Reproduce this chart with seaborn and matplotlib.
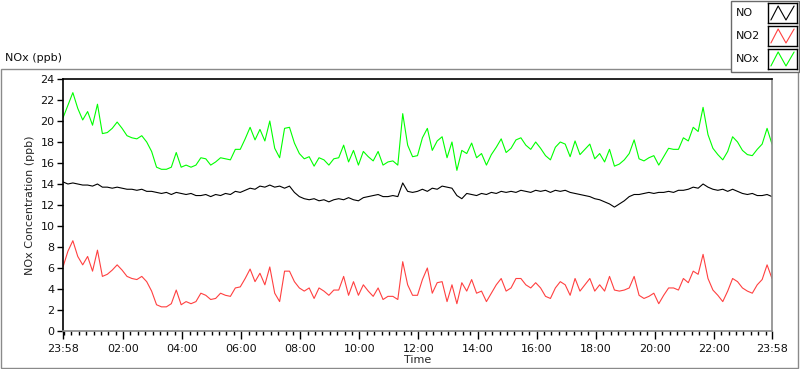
import matplotlib
matplotlib.use("Agg")
import matplotlib.pyplot as plt
import matplotlib.dates as mdates
from matplotlib.patches import Rectangle
import seaborn as sns
import pandas as pd

# Données (un point toutes les 10 minutes, de 23:58 à 23:58)
debut = "2021-01-01 23:58"
no_ppb = [14.2, 14.0, 14.1, 14.0, 13.9, 13.9, 13.8, 14.0, 13.7, 13.7, 13.6, 13.7, 13.6, 13.5, 13.5,
          13.4, 13.5, 13.3, 13.3, 13.2, 13.1, 13.2, 13.0, 13.2, 13.1, 13.0, 13.1, 12.9, 12.9, 13.0,
          12.8, 13.0, 12.9, 13.1, 13.0, 13.3, 13.2, 13.4, 13.6, 13.5, 13.8, 13.7, 13.9, 13.7, 13.8,
          13.6, 13.8, 13.2, 12.8, 12.6, 12.5, 12.6, 12.4, 12.5, 12.3, 12.5, 12.6, 12.5, 12.7, 12.5,
          12.4, 12.7, 12.8, 12.9, 13.0, 12.8, 12.8, 12.9, 12.8, 14.1, 13.3, 13.2, 13.3, 13.5, 13.3,
          13.6, 13.5, 13.8, 13.7, 13.6, 12.9, 12.6, 13.1, 13.0, 12.9, 13.1, 13.0, 13.2, 13.1, 13.3,
          13.2, 13.3, 13.2, 13.4, 13.3, 13.2, 13.4, 13.3, 13.4, 13.2, 13.4, 13.3, 13.4, 13.2, 13.1,
          13.0, 12.9, 12.8, 12.6, 12.5, 12.3, 12.1, 11.8, 12.1, 12.4, 12.8, 13.0, 13.0, 13.1, 13.2,
          13.1, 13.2, 13.2, 13.3, 13.2, 13.4, 13.4, 13.5, 13.7, 13.6, 14.0, 13.7, 13.5, 13.4, 13.5,
          13.3, 13.5, 13.3, 13.1, 13.0, 13.1, 12.9, 12.9, 13.0, 12.8]
no2_ppb = [6.1, 7.6, 8.6, 7.1, 6.3, 7.1, 5.7, 7.7, 5.2, 5.4, 5.8, 6.3, 5.8, 5.2, 5.0,
           4.9, 5.2, 4.7, 3.8, 2.5, 2.3, 2.3, 2.6, 3.9, 2.5, 2.8, 2.6, 2.8, 3.6, 3.4,
           3.0, 3.1, 3.6, 3.4, 3.3, 4.1, 4.2, 5.0, 5.9, 4.7, 5.5, 4.4, 6.1, 3.6, 2.8,
           5.7, 5.7, 4.7, 4.1, 3.8, 4.1, 3.1, 4.1, 3.8, 3.4, 3.9, 3.9, 5.2, 3.4, 4.7,
           3.4, 4.4, 3.8, 3.3, 4.1, 3.0, 3.3, 3.3, 3.0, 6.6, 4.4, 3.4, 3.4, 4.9, 6.0,
           3.6, 4.6, 4.7, 2.8, 4.4, 2.6, 4.6, 3.8, 4.9, 3.6, 3.8, 2.8, 3.6, 4.4, 5.0,
           3.8, 4.1, 5.0, 5.0, 4.4, 4.1, 4.6, 4.1, 3.3, 3.1, 4.1, 4.7, 4.4, 3.4, 5.0,
           3.8, 4.4, 5.0, 3.8, 4.4, 3.8, 5.2, 3.9, 3.8, 3.9, 4.1, 5.2, 3.4, 3.1, 3.3,
           3.6, 2.6, 3.4, 4.1, 4.1, 3.9, 5.0, 4.6, 5.7, 5.4, 7.3, 5.0, 3.9, 3.4, 2.8,
           3.8, 5.0, 4.7, 4.1, 3.8, 3.6, 4.4, 4.9, 6.3, 5.0]
nox_ppb = [20.3, 21.5, 22.7, 21.2, 20.1, 20.9, 19.6, 21.6, 18.8, 18.9, 19.3, 19.9, 19.3, 18.6, 18.4,
           18.3, 18.6, 18.0, 17.1, 15.6, 15.4, 15.4, 15.6, 17.0, 15.6, 15.8, 15.6, 15.8, 16.5, 16.4,
           15.8, 16.1, 16.5, 16.4, 16.3, 17.3, 17.3, 18.3, 19.4, 18.2, 19.2, 18.1, 20.0, 17.4, 16.5,
           19.3, 19.4, 17.9, 16.9, 16.4, 16.6, 15.7, 16.5, 16.3, 15.8, 16.4, 16.5, 17.7, 16.1, 17.2,
           15.8, 17.1, 16.6, 16.2, 17.1, 15.8, 16.1, 16.2, 15.8, 20.7, 17.7, 16.6, 16.7, 18.4, 19.3,
           17.2, 18.1, 18.5, 16.5, 18.0, 15.3, 17.2, 16.9, 17.9, 16.5, 16.9, 15.8, 16.8, 17.5, 18.3,
           17.0, 17.4, 18.2, 18.4, 17.7, 17.3, 18.0, 17.4, 16.7, 16.3, 17.5, 18.0, 17.8, 16.6, 18.1,
           16.8, 17.3, 17.8, 16.4, 16.9, 16.1, 17.3, 15.7, 15.9, 16.3, 16.9, 18.2, 16.4, 16.2, 16.5,
           16.7, 15.8, 16.6, 17.4, 17.3, 17.3, 18.4, 18.1, 19.4, 19.0, 21.3, 18.7, 17.4, 16.8, 16.3,
           17.1, 18.5, 18.0, 17.2, 16.8, 16.7, 17.3, 17.8, 19.3, 17.8]
series = ["NO", "NO2", "NOx"]
couleurs = {"NO": "#000000", "NO2": "#ff4040", "NOx": "#00ff00"}

temps = pd.date_range(start=debut, periods=len(no_ppb), freq="10min")
df = pd.DataFrame({"Time": list(temps) * 3,
                   "ppb": no_ppb + no2_ppb + nox_ppb,
                   "Serie": ["NO"] * len(temps) + ["NO2"] * len(temps) + ["NOx"] * len(temps)})

sns.set_theme(style="white")
plt.rcParams["font.family"] = ["DejaVu Sans"]
plt.rcParams["font.size"] = 8

W, H = 800, 369
fig = plt.figure(figsize=(W / 100, H / 100), dpi=100)
fig.patch.set_facecolor("white")

# cadre du panneau
fig.add_artist(Rectangle((0.5 / W, 1 - 367.5 / H), 797.5 / W, 298.5 / H, transform=fig.transFigure,
                         fill=False, edgecolor="#8a8a8a", linewidth=1.0, zorder=0))
fig.text(5 / W, 1 - 58 / H, "NOx (ppb)", fontsize=8, va="center", ha="left", color="#111111")

ax = fig.add_axes([63 / W, 1 - 331 / H, 709 / W, 252 / H])
sns.lineplot(data=df, x="Time", y="ppb", hue="Serie", palette=couleurs, ax=ax,
             linewidth=0.8, legend=False, estimator=None)

ax.set_ylim(0, 24)
ax.set_yticks(range(0, 25, 2))
ax.set_xlim(temps[0], temps[-1])
majeurs = [temps[0]] + list(pd.date_range("2021-01-02 02:00", "2021-01-02 22:00", freq="2h")) + [temps[-1]]
ax.set_xticks(majeurs)
ax.xaxis.set_major_formatter(mdates.DateFormatter("%H:%M"))
ax.xaxis.set_minor_locator(mdates.MinuteLocator(byminute=[0, 15, 30, 45]))
ax.tick_params(axis="both", which="major", direction="out", length=4, width=1, color="black",
               labelsize=8, labelcolor="#111111", pad=2, bottom=True, left=True)
ax.tick_params(axis="x", which="minor", direction="out", length=3, width=1, color="black", bottom=True)
ax.tick_params(axis="x", which="major", length=6, pad=3)
ax.set_xlabel("Time", fontsize=8, labelpad=1)
ax.set_ylabel("NOx Concentration (ppb)", fontsize=8, labelpad=4)
for cote in ["top", "left"]:
    ax.spines[cote].set_color("black")
    ax.spines[cote].set_linewidth(1.2)
for cote in ["bottom", "right"]:
    ax.spines[cote].set_color("#8a8a8a")
    ax.spines[cote].set_linewidth(1.2)
ax.grid(False)

# légende façon LabVIEW
fig.add_artist(Rectangle((730.5 / W, 1 - 72 / H), 68 / W, 71.5 / H, transform=fig.transFigure,
                         facecolor="white", edgecolor="#6a6a6a", linewidth=1.0, zorder=5))
for i, nom in enumerate(series):
    yc = 13 + i * 23
    fig.text(736 / W, 1 - yc / H, nom, fontsize=8, va="center", ha="left", color="#111111", zorder=6)
    sw = fig.add_axes([768 / W, 1 - (yc + 10) / H, 29 / W, 20 / H], zorder=6)
    sw.plot([0.1, 0.35, 0.62, 0.9], [0.15, 0.85, 0.15, 0.85], color=couleurs[nom], linewidth=0.8)
    sw.set_xlim(0, 1)
    sw.set_ylim(0, 1)
    sw.set_xticks([])
    sw.set_yticks([])
    for s in sw.spines.values():
        s.set_color("black")
        s.set_linewidth(1.0)

fig.savefig("out.png", dpi=100, facecolor="white")
